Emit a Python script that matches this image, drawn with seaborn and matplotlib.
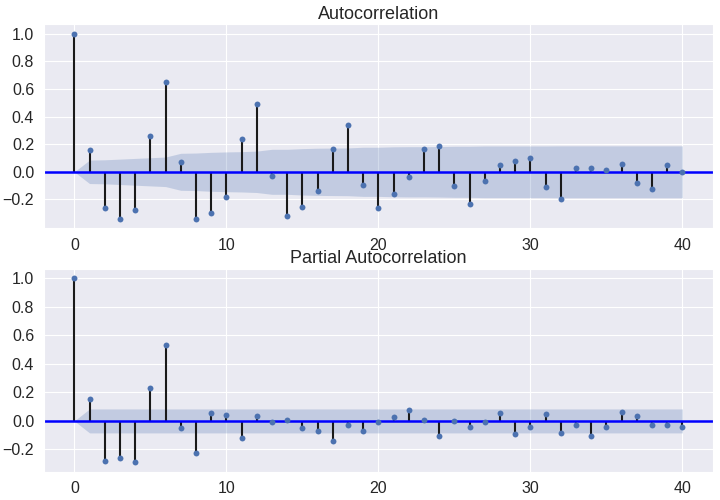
import numpy as np
import matplotlib
matplotlib.use("Agg")
import matplotlib.pyplot as plt
import seaborn as sns

# Values (lags 0..40)
lags = list(range(41))

acf_vals = [1.0, 0.155, -0.26, -0.34, -0.274, 0.257, 0.65, 0.068, -0.34, -0.296,
            -0.18, 0.235, 0.49, -0.027, -0.318, -0.252, -0.136, 0.163, 0.337, -0.092,
            -0.26, -0.158, -0.041, 0.163, 0.184, -0.10, -0.23, -0.07, 0.046, 0.075,
            0.097, -0.107, -0.20, 0.024, 0.024, 0.01, 0.06, -0.078, -0.121, 0.046,
            0.002]

# half-width of the shaded confidence band around zero
acf_band = [0.0, 0.085, 0.087, 0.092, 0.097, 0.102, 0.107, 0.134, 0.136, 0.141,
            0.144, 0.146, 0.150, 0.163, 0.163, 0.168, 0.171, 0.172, 0.173, 0.178,
            0.178, 0.181, 0.182, 0.182, 0.183, 0.185, 0.185, 0.187, 0.187, 0.187,
            0.187, 0.187, 0.188, 0.188, 0.188, 0.188, 0.188, 0.188, 0.188, 0.188,
            0.188]

pacf_vals = [1.0, 0.156, -0.284, -0.263, -0.29, 0.233, 0.533, -0.047, -0.228, 0.058,
             0.044, -0.123, 0.037, -0.005, 0.005, -0.053, -0.074, -0.144, -0.026, -0.074,
             -0.005, 0.03, 0.079, 0.009, -0.109, 0.002, -0.04, -0.005, 0.058, -0.095,
             -0.04, 0.051, -0.088, -0.026, -0.109, -0.04, 0.065, 0.037, -0.026, -0.026,
             -0.04]

pacf_band_width = 0.084

sns.set_style("darkgrid")
plt.rcParams['font.family'] = ['Liberation Sans', 'DejaVu Sans']

fig = plt.figure(figsize=(7.2, 5.0), dpi=100)
ax1 = fig.add_axes([0.061, 0.544, 0.929, 0.407])
ax2 = fig.add_axes([0.061, 0.057, 0.929, 0.405])

pacf_band = [0.0] + [pacf_band_width] * (len(lags) - 1)

panels = [
    (ax1, acf_vals, acf_band, "Autocorrelation"),
    (ax2, pacf_vals, pacf_band, "Partial Autocorrelation"),
]

for ax, vals, band, title in panels:
    band = np.array(band)
    ax.vlines(lags, 0, vals, colors="#1a1a1a", linewidth=1.5, zorder=2)
    sns.scatterplot(x=lags, y=vals, ax=ax, color="#4c72b0", s=18,
                    linewidth=0, zorder=3)
    ax.fill_between(lags, -band, band, color="#4c72b0", alpha=0.25,
                    linewidth=0, zorder=1)
    ax.axhline(0, color="blue", linewidth=1.8, zorder=2)
    ax.margins(0.05)
    ax.set_xticks([0, 10, 20, 30, 40])
    ax.set_yticks([-0.2, 0.0, 0.2, 0.4, 0.6, 0.8, 1.0])
    ax.tick_params(labelsize=11.5, colors="#262626")
    ax.set_title(title, fontsize=13, color="#262626", pad=4)

fig.savefig("out.png", dpi=100)
